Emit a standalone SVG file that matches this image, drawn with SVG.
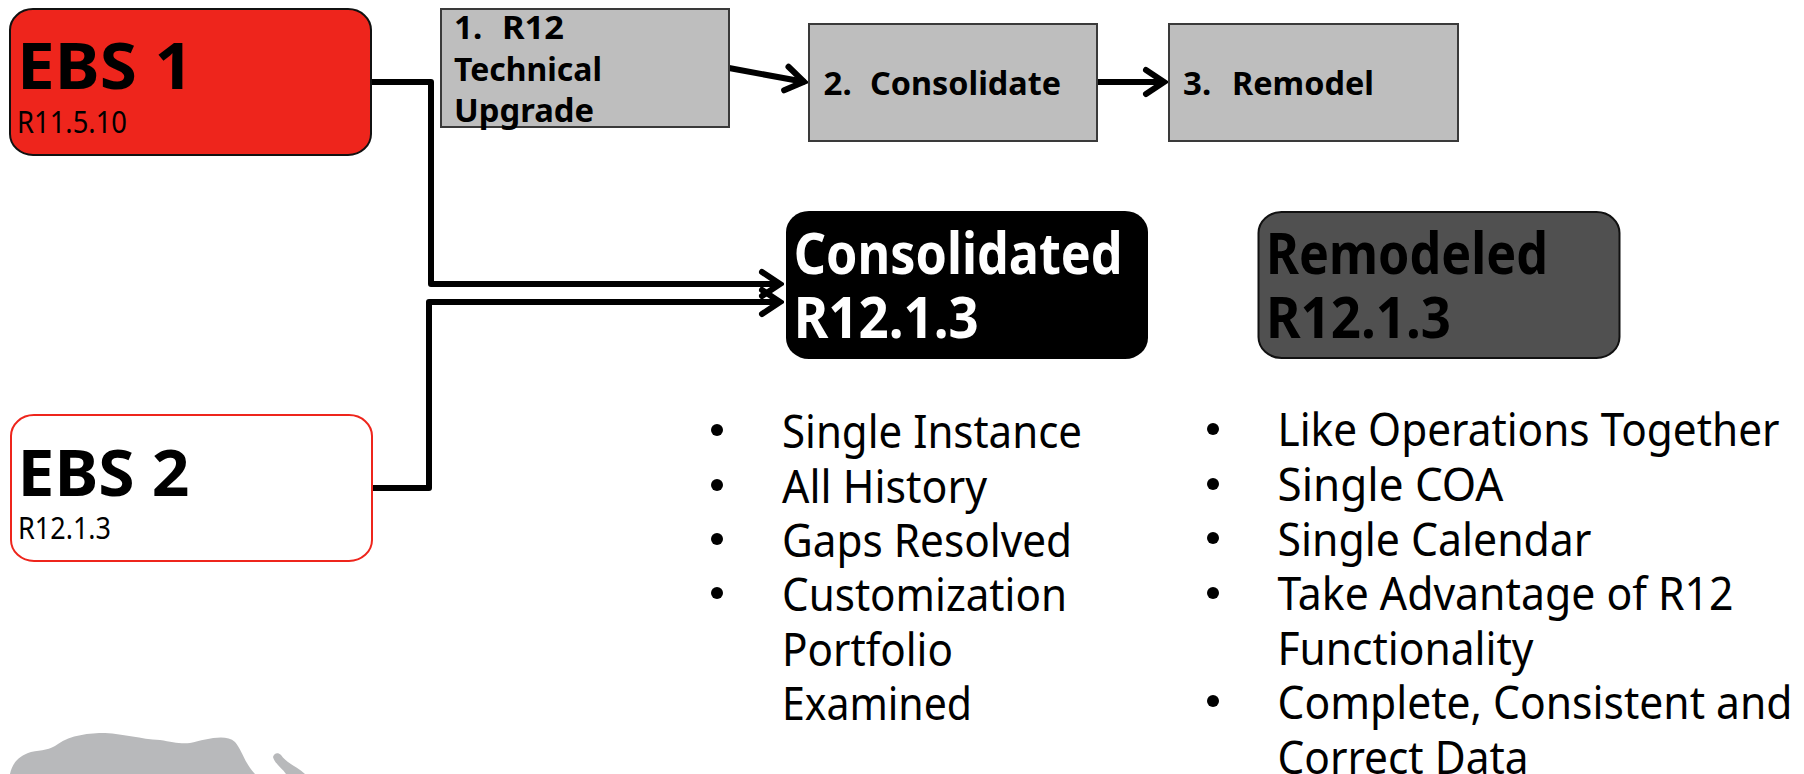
<svg xmlns="http://www.w3.org/2000/svg" width="1804" height="774" viewBox="0 0 1804 774">
<style>
text{font-family:"Noto Sans","Open Sans","Liberation Sans",sans-serif;fill:#000}
.h1{font-size:65px;font-weight:700}
.h2{font-size:57px;font-weight:700}
.st{font-size:30px}
.step{font-size:33px;font-weight:700}
.li{font-size:45px}
.proc{fill:#bebebe;stroke:#3a3a3a;stroke-width:2}
.con{fill:none;stroke:#000;stroke-width:6;stroke-linejoin:round;marker-end:url(#arr)}
.dot{fill:#000}
</style>
<defs>
<marker id="arr" markerUnits="userSpaceOnUse" markerWidth="26" markerHeight="32" viewBox="0 0 26 32" refX="23" refY="16" orient="auto">
<path d="M4 4 L22 16 L4 28" fill="none" stroke="#000" stroke-width="6" stroke-linecap="round" stroke-linejoin="miter"/>
</marker>
</defs>
<rect width="1804" height="774" fill="#fff"/>
<g id="connectors">
<path class="con" d="M371 82 H431 V284 H781"/>
<path class="con" d="M372 488 H429 V302 H781"/>
<path class="con" d="M729 68 L805 82"/>
<path class="con" d="M1097 82 H1165"/>
</g>
<g id="ebs1">
<rect x="10" y="9" width="361" height="146" rx="23" ry="21" fill="#ee251c" stroke="#111" stroke-width="2"/>
<text class="h1" x="17" y="89" textLength="176" lengthAdjust="spacingAndGlyphs">EBS 1</text>
<text class="st" x="17" y="133" textLength="110" lengthAdjust="spacingAndGlyphs">R11.5.10</text>
</g>
<g id="ebs2">
<rect x="11" y="415" width="361" height="146" rx="23" ry="21" fill="#fff" stroke="#ee251c" stroke-width="2"/>
<text class="h1" x="17.500" y="496" textLength="172" lengthAdjust="spacingAndGlyphs">EBS 2</text>
<text class="st" x="18" y="539" textLength="93" lengthAdjust="spacingAndGlyphs">R12.1.3</text>
</g>
<g id="step1">
<rect class="proc" x="441" y="9" width="288" height="118"/>
<text class="step" y="39"><tspan x="454">1.</tspan> <tspan x="502" textLength="62" lengthAdjust="spacingAndGlyphs">R12</tspan></text>
<text class="step" x="454" y="81" textLength="148" lengthAdjust="spacingAndGlyphs">Technical</text>
<text class="step" x="454" y="122" textLength="140" lengthAdjust="spacingAndGlyphs">Upgrade</text>
</g>
<g id="step2">
<rect class="proc" x="809" y="24" width="288" height="117"/>
<text class="step" y="95"><tspan x="823.500">2.</tspan> <tspan x="870" textLength="191" lengthAdjust="spacingAndGlyphs">Consolidate</tspan></text>
</g>
<g id="step3">
<rect class="proc" x="1169" y="24" width="289" height="117"/>
<text class="step" y="95"><tspan x="1183">3.</tspan> <tspan x="1232" textLength="142" lengthAdjust="spacingAndGlyphs">Remodel</tspan></text>
</g>
<g id="consolidated">
<rect x="786" y="211" width="362" height="148" rx="23" ry="21" fill="#000"/>
<text class="h2" x="793.700" y="274" textLength="329" lengthAdjust="spacingAndGlyphs" style="fill:#fff">Consolidated</text>
<text class="h2" x="793.700" y="338" textLength="185" lengthAdjust="spacingAndGlyphs" style="fill:#fff">R12.1.3</text>
</g>
<g id="remodeled">
<rect x="1258.500" y="212" width="361" height="146" rx="23" ry="21" fill="#505050" stroke="#111" stroke-width="2"/>
<text class="h2" x="1266" y="274" textLength="282" lengthAdjust="spacingAndGlyphs">Remodeled</text>
<text class="h2" x="1266" y="338" textLength="185" lengthAdjust="spacingAndGlyphs">R12.1.3</text>
</g>
<g id="list-consolidated">
<ellipse class="dot" cx="717" cy="430" rx="6" ry="6"/>
<ellipse class="dot" cx="717" cy="485" rx="6" ry="6"/>
<ellipse class="dot" cx="717" cy="539" rx="6" ry="6"/>
<ellipse class="dot" cx="717" cy="593" rx="6" ry="6"/>
<text class="li" x="782" y="448" textLength="300" lengthAdjust="spacingAndGlyphs">Single Instance</text>
<text class="li" x="782" y="503" textLength="205" lengthAdjust="spacingAndGlyphs">All History</text>
<text class="li" x="782" y="557" textLength="290" lengthAdjust="spacingAndGlyphs">Gaps Resolved</text>
<text class="li" x="782" y="611" textLength="285" lengthAdjust="spacingAndGlyphs">Customization</text>
<text class="li" x="782" y="666" textLength="171" lengthAdjust="spacingAndGlyphs">Portfolio</text>
<text class="li" x="782" y="720" textLength="190" lengthAdjust="spacingAndGlyphs">Examined</text>
</g>
<g id="list-remodeled">
<ellipse class="dot" cx="1213" cy="429" rx="6" ry="6"/>
<ellipse class="dot" cx="1213" cy="484" rx="6" ry="6"/>
<ellipse class="dot" cx="1213" cy="538" rx="6" ry="6"/>
<ellipse class="dot" cx="1213" cy="593" rx="6" ry="6"/>
<ellipse class="dot" cx="1213" cy="701" rx="6" ry="6"/>
<text class="li" x="1277.500" y="446" textLength="502" lengthAdjust="spacingAndGlyphs">Like Operations Together</text>
<text class="li" x="1277.500" y="501" textLength="226" lengthAdjust="spacingAndGlyphs">Single COA</text>
<text class="li" x="1277.500" y="556" textLength="314" lengthAdjust="spacingAndGlyphs">Single Calendar</text>
<text class="li" x="1277.500" y="610" textLength="456" lengthAdjust="spacingAndGlyphs">Take Advantage of R12</text>
<text class="li" x="1277.500" y="665" textLength="256" lengthAdjust="spacingAndGlyphs">Functionality</text>
<text class="li" x="1277.500" y="719" textLength="515" lengthAdjust="spacingAndGlyphs">Complete, Consistent and</text>
<text class="li" x="1277.500" y="774" textLength="251" lengthAdjust="spacingAndGlyphs">Correct Data</text>
</g>
<path fill="#b8b9bb" d="M10 774 C12 764 18 756 31 752 C42 750 50 750 58 744 C70 735 90 733 105 733 C125 734 140 739 160 740 C172 742 180 744 190 743 C205 740 225 733 235 742 C242 750 244 762 255 774 Z"/>
<path fill="#b8b9bb" d="M273 757 C274 753 278 752 281 755 C286 763 298 767 305 774 L286 774 C282 768 275 764 273 757 Z"/>
</svg>
